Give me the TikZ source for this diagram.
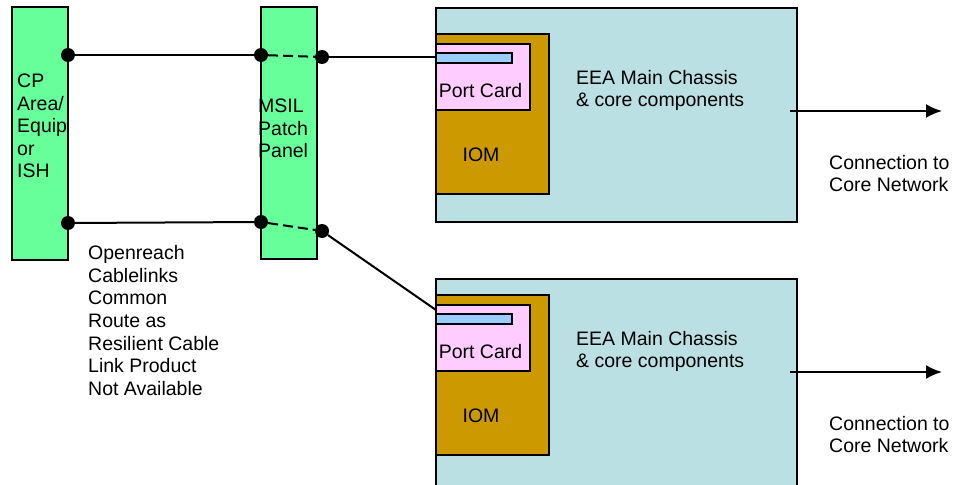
\documentclass[tikz,border=0pt]{standalone}
\usepackage{fontspec}
\setmainfont{Liberation Sans}
\usetikzlibrary{arrows.meta}
\definecolor{panelgreen}{HTML}{66FF99}
\definecolor{chassisblue}{HTML}{BBE0E3}
\definecolor{iomgold}{HTML}{CC9900}
\definecolor{cardpink}{HTML}{FFCCFF}
\definecolor{slotblue}{HTML}{99CCFF}

\begin{document}
\begin{tikzpicture}[x=1pt,y=-1pt,
  box/.style={draw,line width=2pt,inner sep=0pt,outer sep=0pt},
  dot/.style={circle,fill=black,inner sep=0pt,minimum size=14pt},
  txt/.style={align=left,inner sep=0pt,font=\fontsize{19.5}{22.6}\selectfont},
  wire/.style={line width=2pt},
  uplink/.style={wire,-{Latex[length=16pt,width=14pt]}}
]
  \useasboundingbox (0,0) rectangle (957,484);
  \clip (0,0) rectangle (957,484);

  \node[box,fill=panelgreen,minimum width=56pt,minimum height=253pt] (cp) at (40,133.5) {};
  \node[box,fill=panelgreen,minimum width=56pt,minimum height=252pt] (msil) at (289,133) {};
  \node[txt,anchor=west] (cptext) at (17,126) {CP\\Area/\\Equip\\or\\ISH};
  \node[txt,anchor=west] (msiltext) at (258,128.5) {MSIL\\Patch\\Panel};

  \node[box,fill=chassisblue,minimum width=361pt,minimum height=214pt,anchor=north] (chA) at (616.5,8) {};
  \node[box,fill=chassisblue,minimum width=361pt,minimum height=230pt,anchor=north] (chB) at (616.5,279) {};

  \foreach \n/\dy in {A/0,B/261}{
    \node[box,fill=iomgold,minimum width=113pt,minimum height=160pt] (iom\n) at (492.5,114+\dy) {};
    \node[box,fill=cardpink,minimum width=94pt,minimum height=66pt] (port\n) at (483,77+\dy) {};
    \node[box,fill=slotblue,minimum width=76pt,minimum height=10pt] (slot\n) at (474,58+\dy) {};
    \node[txt] (porttext\n) at (480.5,91+\dy) {Port Card};
    \node[txt] (iomtext\n) at (481,155+\dy) {IOM};
    \node[txt,anchor=west] (eea\n) at (576,90.5+\dy) {EEA Main Chassis\\\& core components};
    \node[txt,anchor=west] (core\n) at (829,173.5+\dy) {Connection to\\Core Network};
  }

  \node[txt,anchor=west] (note) at (88,320.5)
    {Openreach\\Cablelinks\\Common\\Route as\\Resilient Cable\\Link Product\\Not Available};

  \node[dot] (cpA) at (68,55) {};
  \node[dot] (patchA1) at (261,55) {};
  \node[dot] (patchA2) at (322,57) {};
  \node[dot] (cpB) at (68,223) {};
  \node[dot] (patchB1) at (261,222) {};
  \node[dot] (patchB2) at (322,231) {};
  \coordinate (inA) at (436,57);
  \coordinate (inB) at (436,310);

  \draw[wire] (cpA) -- (patchA1);
  \draw[wire] (cpB) -- (patchB1);
  \draw[wire,dash pattern=on 10pt off 5pt] (patchA1) -- (patchA2);
  \draw[wire,dash pattern=on 10pt off 5pt] (patchB1) -- (patchB2);
  \draw[wire] (patchA2) -- (inA);
  \draw[wire] (patchB2) -- (inB);

  \coordinate (outA) at (790,111);
  \coordinate (netA) at (942,111);
  \coordinate (outB) at (790,372);
  \coordinate (netB) at (942,372);
  \draw[uplink] (outA) -- (netA);
  \draw[uplink] (outB) -- (netB);
\end{tikzpicture}
\end{document}
